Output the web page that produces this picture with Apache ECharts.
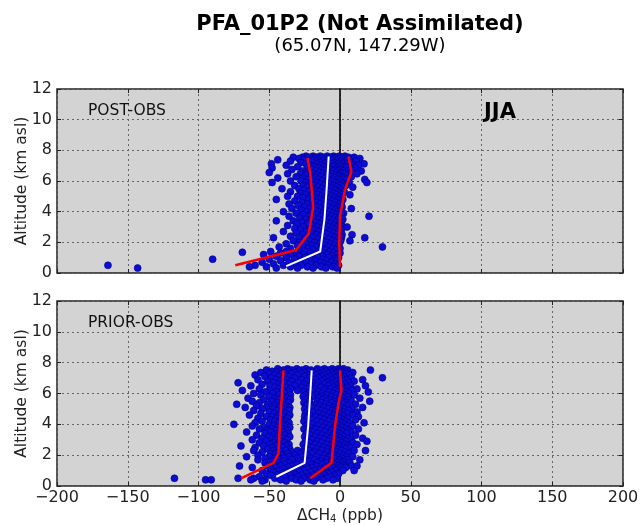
<!DOCTYPE html>
<html>
<head>
<meta charset="utf-8">
<script src="https://cdn.jsdelivr.net/npm/echarts@6/dist/echarts.min.js"></script>
<style>
html,body{margin:0;padding:0;background:#fff}
#chart{width:640px;height:525px}
</style>
</head>
<body>
<div id="chart"></div>
<script>
// Model minus observation differences (ppb), grouped by altitude (km asl)
const postObsRows = [
  [7.62,[-24,-19,-14,-9,-4.5,-0.5,3.5]],
  [7.55,[-33,-26.5,-21,-16.5,-11.5,-6.5,-2,1.5,6,10]],
  [7.47,[-29,-23.5,-18,-13,-8,-3.5,0.5,4.5,8.5,14]],
  [7.38,[-44,-25.5,-20,-15,-10,-5,-1,2.5,6.5]],
  [7.3, [-35,-22,-17,-12,-7,-2.5,1,4,11.5]],
  [7.2, [-27.5,-19.5,-14.5,-9.5,-4,0,3,7]],
  [7.12,[-48.5,-24,-16,-11,-6,-1.5,2,5.5,17]],
  [7.02,[-38,-21,-13.5,-8.5,-3,0.5,9,13]],
  [6.93,[-30,-18.5,-12,-5,-0.5,3.5,6.5]],
  [6.85,[-48,-23,-15.5,-9.5,-2,1.5,4.5,10.5]],
  [6.75,[-34,-20,-13,-7,-3.5,0,8]],
  [6.66,[-26.5,-17,-11,-4.5,-1,2.5,5.5,15]],
  [6.55,[-50,-22.5,-14.5,-8.5,-2.5,1,3.5]],
  [6.47,[-37,-28,-19,-12,-5.5,0,2,6.5,12]],
  [6.38,[-24,-16,-9,-3,-0.5,4]],
  [6.28,[-31,-20.5,-13.5,-6.5,-1.5,1.5,8]],
  [6.2, [-44,-26,-17.5,-10.5,-4,0.5,3]],
  [6.1, [-22.5,-15,-8,-2,2,5,17.5]],
  [6.0, [-35,-27.5,-19,-12.5,-5.5,-0.5]],
  [5.9, [-48,-24,-16.5,-9.5,-3,1,6.5,19]],
  [5.8, [-21,-14,-7,-1.5,2.5]],
  [5.7, [-32,-26,-18,-11,-4.5,0,4]],
  [5.6, [-23,-15.5,-8.5,-2.5,1.5,9]],
  [5.5, [-41,-29,-20,-12.5,-5.5,-0.5]],
  [5.4, [-25.5,-17,-10,-3.5,1]],
  [5.3, [-35,-22,-14.5,-7,-1.5,3]],
  [5.2, [-28,-19,-11.5,-4.5,0]],
  [5.1, [-24.5,-16,-8.5,-2.5,1.5,7]],
  [5.0, [-37,-30,-20.5,-13,-6,-0.5]],
  [4.9, [-26,-17.5,-10,-3.5,0.5]],
  [4.8, [-45,-22,-14.5,-7.5,-1.5,2]],
  [4.7, [-32,-19.5,-12,-5,-0.5]],
  [4.6, [-27,-16.5,-9,-3,1]],
  [4.5, [-36,-23,-14,-6.5,-1]],
  [4.4, [-29.5,-19,-11,-4,0.5]],
  [4.3, [-25,-16,-8,-2,1.5]],
  [4.2, [-34,-21.5,-13,-5.5,-0.5,8]],
  [4.1, [-27.5,-18,-10.5,-3.5,0.5]],
  [4.0, [-40,-23.5,-15,-7,-1.5]],
  [3.9, [-31,-20,-12,-4.5,0,2.5]],
  [3.8, [-26,-16.5,-9,-2.5,1]],
  [3.7, [-36,-22,-13.5,-6,-0.5,20.5]],
  [3.6, [-28.5,-18.5,-10.5,-3.5,0.5]],
  [3.5, [-24,-15,-7.5,-1.5,2]],
  [3.4, [-45,-33,-20.5,-12,-5,0]],
  [3.3, [-27,-17,-9.5,-3,1]],
  [3.2, [-30.5,-22.5,-14,-6.5,-0.5]],
  [3.1, [-37,-19,-11,-4,0.5]],
  [3.0, [-26,-16,-8,-2,1.5,5]],
  [2.9, [-32,-21,-13,-5.5,0]],
  [2.8, [-28,-18,-10,-3.5,1]],
  [2.7, [-40,-23.5,-14.5,-7,-1]],
  [2.6, [-31,-20,-11.5,-4.5,0.5]],
  [2.5, [-26.5,-16.5,-8.5,-2,1.5,8.5]],
  [2.4, [-35,-22,-13.5,-6,0]],
  [2.3, [-47,-29,-19,-10.5,-3.5,1,17.5]],
  [2.2, [-25,-15.5,-7.5,-1.5]],
  [2.1, [-33,-21.5,-12.5,-5,0.5,7]],
  [2.0, [-28.5,-18,-9.5,-3]],
  [1.9, [-38,-24,-14.5,-6.5,-0.5]],
  [1.8, [-30,-20,-11,-4]],
  [1.7, [-43,-26,-16.5,-8,-1,30]],
  [1.6, [-35,-22.5,-13,-5,0]],
  [1.5, [-29,-19,-10,-2.5]],
  [1.4, [-49,-38,-25,-15,-7]],
  [1.35,[-69]],
  [1.3, [-42,-31,-21,-12,-4.5,0]],
  [1.2, [-54,-35,-26,-17,-9,-2]],
  [1.1, [-45,-29,-20.5,-12.5,-5.5]],
  [1.0, [-38,-24.5,-15.5,-8,-1]],
  [0.9, [-90,-50,-32,-21,-12,-4]],
  [0.8, [-42,-28,-17.5,-9.5,-2.5]],
  [0.7, [-55,-36,-24,-14,-6]],
  [0.6, [-47,-31,-20,-11,-3]],
  [0.5, [-164,-60,-40,-27.5,-17,-8.5,-1]],
  [0.4, [-64,-52,-35,-23,-13,-5]],
  [0.32,[-143,-45,-30,-19,-10,-2]]
];

const priorObsRows = [
  [7.6, [-44,-37,-30.5,-24,-16,-11,-5.5,-1,2.5]],
  [7.52,[-52,-40,-34,-27,-20.5,-13.5,-8,-3,1,5.5,21.5]],
  [7.44,[-48,-42.5,-36.5,-29,-22.5,-17,-10,-4.5,0,3.5]],
  [7.36,[-56,-45,-39,-32.5,-25.5,-19,-12.5,-6.5,-2,2,9]],
  [7.28,[-50,-41,-34.5,-27.5,-14.5,-8.5,-3,4.5]],
  [7.2, [-60,-46.5,-38,-30,-23,-17,-11,-5,0.5,6.5]],
  [7.1, [-53,-43,-36,-25,-19.5,-13,-7,-1.5,3]],
  [7.02,[30]],
  [7.0, [-48.5,-40,-32,-21.5,-15,-9,-3.5,1.5,8]],
  [6.9, [-58,-45,-37.5,-27,-17.5,-11.5,-5.5,0,4.5,16]],
  [6.8, [-51,-42,-34,-23.5,-13,-7.5,-2.5,2.5,10]],
  [6.7, [-72,-47,-39.5,-29.5,-19.5,-15.5,-9,-4,0.5,6]],
  [6.6, [-55,-43.5,-36,-25.5,-11,-6,-1,3.5]],
  [6.5, [-63,-49.5,-41,-32,-21,-16.5,-8,-2.5,1.5,7.5,18]],
  [6.4, [-46,-38,-27,-13.5,-4.5,0,5]],
  [6.3, [-57,-43,-35,-23.5,-18,-10,-6.5,-1.5,3,12]],
  [6.2, [-69,-50,-40.5,-30,-20,-11.5,-3,2,8.5]],
  [6.1, [-53,-45,-36.5,-25.5,-15,-8,-1,4.5,20]],
  [6.0, [-61,-47.5,-39,-22,-12.5,-5,1,6]],
  [5.9, [-56,-43,-35,-24,-17,-9.5,-2.5,3,10]],
  [5.8, [-50,-40.5,-26,-19.5,-13,-6,0,5.5]],
  [5.7, [-65,-46,-37.5,-22.5,-15,-10.5,-3.5,2,14]],
  [5.6, [-54,-43.5,-35,-24.5,-12,-7,-0.5,6.5]],
  [5.5, [-62,-48.5,-40,-21.5,-16,-9.5,-4,1.5,8,21]],
  [5.4, [-57,-44,-36.5,-25.5,-13.5,-6,0,4]],
  [5.3, [-73,-51,-41.5,-22,-17,-10,-2.5,2.5,11]],
  [5.2, [-59,-46,-38,-24,-14.5,-7.5,-1,5.5]],
  [5.1, [-67,-52,-42.5,-35.5,-20.5,-11.5,-4.5,1,16]],
  [5.0, [-55,-47,-39.5,-25,-16,-8,-2,3.5,8.5]],
  [4.9, [-61,-44.5,-36,-22.5,-13,-5.5,0,6]],
  [4.8, [-50,-41,-19,-10.5,-3,2,12]],
  [4.7, [-56,-46.5,-38.5,-24.5,-15.5,-7.5,-0.5,4.5]],
  [4.6, [-64,-43,-35.5,-21.5,-12,-4,1.5,9]],
  [4.5, [-52,-48,-40,-25,-17,-9,-2,3,13]],
  [4.4, [-58,-44.5,-37,-23,-14,-6.5,0,5.5]],
  [4.3, [-49,-41.5,-20,-11,-3.5,2.5,11]],
  [4.2, [-55,-46,-38.5,-25.5,-16,-8,-1,4]],
  [4.1, [-60,-43,-36,-22.5,-13,-5,1,7,17]],
  [4.0, [-75,-50,-40,-19.5,-10,-2.5,3]],
  [3.9, [-62,-47,-37.5,-24,-15.5,-7,0,5.5,9]],
  [3.8, [-54,-44,-35.5,-21,-12,-4,1.5]],
  [3.7, [-57,-48.5,-41,-25.5,-17,-9,-1.5,4,13]],
  [3.6, [-51,-45,-37,-22,-14,-6,0.5,6]],
  [3.5, [-66,-49,-40.5,-19.5,-11,-3,2,8]],
  [3.4, [-53,-43.5,-36.5,-24,-16,-7.5,-0.5,4.5]],
  [3.3, [-59,-47,-39,-21,-12.5,-5,1,11]],
  [3.2, [-50,-44,-35.5,-25,-17.5,-9.5,-2,3]],
  [3.1, [-55,-48,-40.5,-22.5,-14,-6.5,0,6,16]],
  [3.0, [-62,-45.5,-37.5,-19.5,-11,-3.5,2,8]],
  [2.9, [-52,-42,-24.5,-16,-8,-1,4,19]],
  [2.8, [-57,-47,-39,-21.5,-13,-5,1.5,9]],
  [2.7, [-49.5,-43.5,-36,-26,-17.5,-9.5,-2.5,3.5,12]],
  [2.6, [-70,-54,-45,-38,-23,-14.5,-6.5,0,5.5]],
  [2.5, [-60,-48,-40.5,-20,-11.5,-4,2,7]],
  [2.4, [-51,-44,-35.5,-25,-16.5,-8.5,-1,4]],
  [2.3, [-61,-47,-38.5,-30,-22,-13,-5.5,1,10,18]],
  [2.2, [-55,-42.5,-34,-26.5,-18,-9,-2.5,3.5]],
  [2.1, [-49,-45.5,-37,-28,-20,-14.5,-6,0,6]],
  [2.0, [-58,-41,-32,-23.5,-11,-3.5,2]],
  [1.9, [-66,-50,-44,-36,-27,-16.5,-7.5,-1,4.5,9]],
  [1.8, [-53,-46,-39.5,-30.5,-21,-12,-4,1.5]],
  [1.7, [-58,-43,-34,-25,-18,-9,-0.5,5,14]],
  [1.6, [-48,-40,-29,-22,-14,-6,0,3]],
  [1.5, [-53,-44.5,-36,-26.5,-16,-10,-2,2,7]],
  [1.4, [-47,-39,-31,-20,-12.5,-4,1]],
  [1.3, [-71,-51,-42,-34,-24,-17,-7,-1,3,8,12]],
  [1.2, [-62,-45,-37,-28.5,-20,-11,-4.5,0.5,4]],
  [1.1, [-49,-40,-32,-23,-14.5,-7.5,-2]],
  [1.0, [-55,-43,-35,-26,-18,-10,-3,2,10]],
  [0.9, [-47,-38,-29,-21,-13,-6]],
  [0.8, [-52,-41,-32.5,-24,-16,-8,-1]],
  [0.7, [-49,-44,-35,-27,-19,-11,-4]],
  [0.6, [-57,-39,-30,-22,-14,-6.5]],
  [0.5, [-117,-72,-61,-46,-34,-25.5,-17,-9.5,-2]],
  [0.4, [-95,-91,-63,-53,-42,-31,-21,-12,-5]],
  [0.32,[-55,-38,-27.5,-18.5]]
];

// Profile statistics: mean (white) and spread bounds (red)
const postRedLeft  = [[-74,0.5],[-31,1.5],[-22,2.6],[-19,4.3],[-21,6.5],[-23,7.5]];
const postMean     = [[-38,0.45],[-14,1.4],[-11,3.5],[-9.5,5.4],[-8,7.6]];
const postRedRight = [[0,0.4],[-0.5,1.9],[0,3.7],[3.5,5.4],[8,6.6],[6,7.6]];

const priorRedLeft  = [[-70,0.5],[-47,1.5],[-43.5,2.1],[-42.5,3.9],[-41,6],[-40,7.5]];
const priorMean     = [[-45,0.6],[-25,1.5],[-22.5,3.9],[-21,6],[-20,7.5]];
const priorRedRight = [[-21,0.5],[-6,1.5],[-3.5,3.9],[-1,5.4],[1,6.2],[0,7.5]];

const xRange = [-200, 200], xStep = 50;
const yRange = [0, 12], yStep = 2;

const toPoints = rows => rows.flatMap(([alt, xs]) => xs.map(x => [x, alt]));

const FONT = 'DejaVu Sans';
const minus = v => String(v).replace('-', '\u2212');
const gridLine = { show: true, lineStyle: { color: '#666', width: 1, type: [2, 3] } };
const tick = { show: true, inside: true, length: 4, lineStyle: { color: '#222' } };

function xAx(gi, labels, top) {
  return {
    type: 'value', gridIndex: gi, min: xRange[0], max: xRange[1], interval: xStep,
    position: top ? 'top' : 'bottom',
    axisLine: { show: false, onZero: false },
    axisTick: tick,
    splitLine: top ? { show: false } : gridLine,
    axisLabel: { show: labels, formatter: minus, color: '#222', fontFamily: FONT, fontSize: 16, margin: 4 },
    name: labels ? '{a|ΔCH}{s|4}{a| (ppb)}' : '',
    nameLocation: 'middle', nameGap: 21,
    nameTextStyle: {
      rich: {
        a: { fontFamily: FONT, fontSize: 15.5, color: '#222' },
        s: { fontFamily: FONT, fontSize: 10, color: '#222', verticalAlign: 'bottom', padding: [7, 0, 0, 0] }
      }
    }
  };
}

function yAx(gi, right) {
  return {
    type: 'value', gridIndex: gi, min: yRange[0], max: yRange[1], interval: yStep,
    position: right ? 'right' : 'left',
    axisLine: { show: false, onZero: false },
    axisTick: tick,
    splitLine: right ? { show: false } : gridLine,
    axisLabel: { show: !right, color: '#222', fontFamily: FONT, fontSize: 16, margin: 5 },
    name: right ? '' : 'Altitude (km asl)',
    nameLocation: 'middle', nameGap: 27, nameMoveOverlap: false,
    nameTextStyle: { fontFamily: FONT, fontSize: 15.5, color: '#222' }
  };
}

// vertical reference line at ΔCH4 = 0, drawn as an axis line beneath the data
function zeroAx(gi, xIndex) {
  return {
    type: 'value', gridIndex: gi, min: yRange[0], max: yRange[1],
    axisLine: { show: true, onZero: true, onZeroAxisIndex: xIndex, lineStyle: { color: '#000', width: 1.6 } },
    axisTick: { show: false }, axisLabel: { show: false }, splitLine: { show: false }
  };
}

function scatter(rows, xi, yi) {
  return {
    type: 'scatter', xAxisIndex: xi, yAxisIndex: yi, data: toPoints(rows),
    symbolSize: 7, z: 3,
    itemStyle: { color: '#0c0cd4', borderColor: '#00008a', borderWidth: 0.6, opacity: 1 },
    silent: true
  };
}

function line(data, xi, yi, color, width, z) {
  return {
    type: 'line', xAxisIndex: xi, yAxisIndex: yi, data, showSymbol: false, symbol: 'none',
    lineStyle: { color, width }, z, silent: true
  };
}

const chart = echarts.init(document.getElementById('chart'), null, { renderer: 'canvas' });

const panel = { left: 57, width: 566, show: true, backgroundColor: '#d3d3d3', borderColor: '#222', borderWidth: 1.5, containLabel: false, outerBoundsMode: 'none' };

chart.setOption({
  animation: false,
  backgroundColor: '#fff',
  grid: [
    Object.assign({ top: 89, height: 184 }, panel),
    Object.assign({ top: 301, height: 185 }, panel)
  ],
  xAxis: [xAx(0, false, false), xAx(0, false, true), xAx(1, true, false), xAx(1, false, true)],
  yAxis: [yAx(0, false), yAx(0, true), yAx(1, false), yAx(1, true), zeroAx(0, 0), zeroAx(1, 2)],
  series: [
    scatter(postObsRows, 0, 0),
    line(postMean, 0, 0, '#ffffff', 2, 4),
    line(postRedLeft, 0, 0, '#ff0000', 2.5, 5),
    line(postRedRight, 0, 0, '#ff0000', 2.5, 5),

    scatter(priorObsRows, 2, 2),
    line(priorMean, 2, 2, '#ffffff', 2, 4),
    line(priorRedLeft, 2, 2, '#ff0000', 2.5, 5),
    line(priorRedRight, 2, 2, '#ff0000', 2.5, 5)
  ],
  graphic: [
    { type: 'text', x: 360, y: 25, z: 10, style: { text: 'PFA_01P2 (Not Assimilated)', font: 'bold 21px "DejaVu Sans"', fill: '#000', textAlign: 'center', textVerticalAlign: 'middle' } },
    { type: 'text', x: 360, y: 46, z: 10, style: { text: '(65.07N, 147.29W)', font: '18px "DejaVu Sans"', fill: '#000', textAlign: 'center', textVerticalAlign: 'middle' } },
    { type: 'text', x: 88, y: 111, z: 10, style: { text: 'POST-OBS', font: '15.5px "DejaVu Sans"', fill: '#111', textAlign: 'left', textVerticalAlign: 'middle' } },
    { type: 'text', x: 88, y: 323, z: 10, style: { text: 'PRIOR-OBS', font: '15.5px "DejaVu Sans"', fill: '#111', textAlign: 'left', textVerticalAlign: 'middle' } },
    { type: 'text', x: 484, y: 113, z: 10, style: { text: 'JJA', font: 'bold 21px "DejaVu Sans"', fill: '#000', textAlign: 'left', textVerticalAlign: 'middle' } }
  ]
});
</script>
</body>
</html>
